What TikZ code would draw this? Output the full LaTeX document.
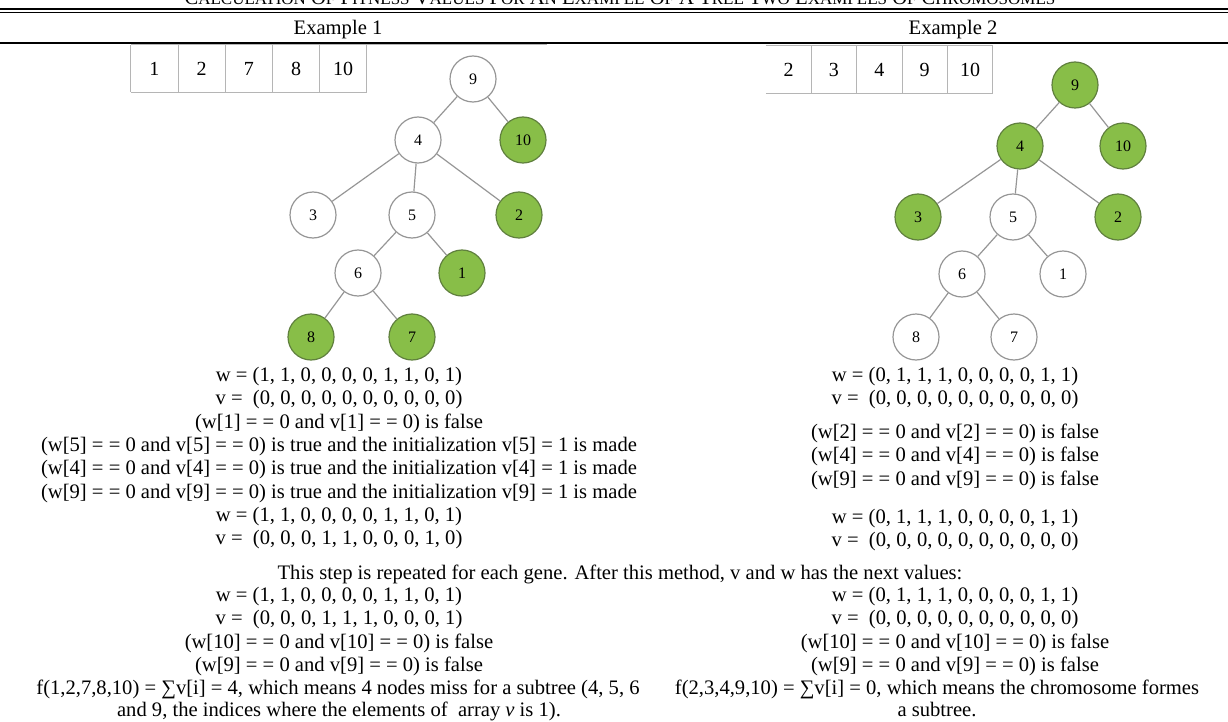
\documentclass[tikz,border=0pt]{standalone}
\usepackage{fontspec}
\setmainfont{Liberation Serif}
\usetikzlibrary{positioning}
\definecolor{leafgreen}{RGB}{136,190,72}
\definecolor{leafrim}{RGB}{96,128,62}
\definecolor{stemgray}{RGB}{150,150,150}
\newcommand{\sccap}[2]{#1{\fontsize{17}{18}\selectfont #2}}

\begin{document}
\begin{tikzpicture}[x=1pt, y=-1pt, every node/.style={font=\fontsize{20.6}{23}\selectfont, inner sep=0pt},
        txt/.style={anchor=base},
        plain/.style={circle, draw=stemgray, line width=1.2pt, fill=white, minimum size=46pt, font=\fontsize{16}{18}\selectfont},
        marked/.style={plain, draw=leafrim, fill=leafgreen},
        cell/.style={minimum width=46.8pt, minimum height=47pt, font=\fontsize{20}{22}\selectfont},
        gridline/.style={draw=stemgray!70, line width=0.8pt},
        branch/.style={draw=stemgray, line width=1.2pt}]
    \useasboundingbox (0,0) rectangle (1228,722);
    \node[txt] (title) at (620,5) {\sccap{C}{ALCULATION} \sccap{O}{F} \sccap{F}{ITNESS} \sccap{V}{ALUES} \sccap{F}{OR} \sccap{A}{N} \sccap{E}{XAMPLE} \sccap{O}{F} A \sccap{T}{REE} \sccap{T}{WO} \sccap{E}{XAMPLES} \sccap{O}{F} \sccap{C}{HROMOSOMES}};
    \draw[line width=2.5pt] (0,9) -- (1228,9);
    \draw[line width=1pt] (0,13) -- (1228,13);
    \node[txt] (ex1) at (338,35) {Example 1};
    \node[txt] (ex2) at (953,35) {Example 2};
    \draw[line width=2pt] (0,43) -- (1228,43);

    % chromosome arrays
    \node[cell] (a1) at (154.4,68.5) {1};
    \node[cell, right=0pt of a1] (a2) {2};
    \node[cell, right=0pt of a2] (a3) {7};
    \node[cell, right=0pt of a3] (a4) {8};
    \node[cell, right=0pt of a4] (a5) {10};
    \draw[gridline] (a1.north west) -- ++(416,0) (a1.south west) -- (a5.south east) (a1.north west) -- (a1.south west);
    \foreach \c in {1,...,5} \draw[gridline] (a\c.north east) -- (a\c.south east);
    \node[cell, minimum width=45pt] (b1) at (788.5,69.5) {2};
    \node[cell, minimum width=45pt, right=0pt of b1] (b2) {3};
    \node[cell, minimum width=45pt, right=0pt of b2] (b3) {4};
    \node[cell, minimum width=45pt, right=0pt of b3] (b4) {9};
    \node[cell, minimum width=45pt, right=0pt of b4] (b5) {10};
    \draw[gridline] (b1.north west) -- (b5.north east) (b1.south west) -- (b5.south east);
    \foreach \c in {1,...,5} \draw[gridline] (b\c.north east) -- (b\c.south east);

    % tree, example 1
    \node[plain] (l9) at (473,79) {9};
    \node[plain] (l4) at (418,140) {4};
    \node[marked] (l10) at (523,140) {10};
    \node[plain] (l3) at (313,215) {3};
    \node[plain] (l5) at (412,215) {5};
    \node[marked] (l2) at (519,215) {2};
    \node[plain] (l6) at (358,273) {6};
    \node[marked] (l1) at (462,273) {1};
    \node[marked] (l8) at (311,337) {8};
    \node[marked] (l7) at (412,337) {7};
    \draw[branch] (l9) -- (l4) (l9) -- (l10) (l4) -- (l3) (l4) -- (l5) (l4) -- (l2) (l5) -- (l6) (l5) -- (l1) (l6) -- (l8) (l6) -- (l7);

    % tree, example 2
    \node[marked] (r9) at (1075,85) {9};
    \node[marked] (r4) at (1020,146) {4};
    \node[marked] (r10) at (1123,146) {10};
    \node[marked] (r3) at (918,217) {3};
    \node[plain] (r5) at (1013,217) {5};
    \node[marked] (r2) at (1118,217) {2};
    \node[plain] (r6) at (962,274) {6};
    \node[plain] (r1) at (1063,274) {1};
    \node[plain] (r8) at (916,337) {8};
    \node[plain] (r7) at (1014,337) {7};
    \draw[branch] (r9) -- (r4) (r9) -- (r10) (r4) -- (r3) (r4) -- (r5) (r4) -- (r2) (r5) -- (r6) (r5) -- (r1) (r6) -- (r8) (r6) -- (r7);

    % steps, example 1
    \node[txt] (lw1) at (339,381) {w = (1, 1, 0, 0, 0, 0, 1, 1, 0, 1)};
    \node[txt] (lv1) at (339,404) {v =~ (0, 0, 0, 0, 0, 0, 0, 0, 0, 0)};
    \node[txt] (lc1) at (339,428) {(w[1] = = 0 and v[1] = = 0) is false};
    \node[txt] (lc5) at (339,451) {(w[5] = = 0 and v[5] = = 0) is true and the initialization v[5] = 1 is made};
    \node[txt] (lc4) at (339,474) {(w[4] = = 0 and v[4] = = 0) is true and the initialization v[4] = 1 is made};
    \node[txt] (lc9) at (339,498) {(w[9] = = 0 and v[9] = = 0) is true and the initialization v[9] = 1 is made};
    \node[txt] (lw2) at (339,521) {w = (1, 1, 0, 0, 0, 0, 1, 1, 0, 1)};
    \node[txt] (lv2) at (339,544) {v =~ (0, 0, 0, 1, 1, 0, 0, 0, 1, 0)};

    % steps, example 2
    \node[txt] (rw1) at (955,381) {w = (0, 1, 1, 1, 0, 0, 0, 0, 1, 1)};
    \node[txt] (rv1) at (955,404) {v =~ (0, 0, 0, 0, 0, 0, 0, 0, 0, 0)};
    \node[txt] (rc2) at (955,438) {(w[2] = = 0 and v[2] = = 0) is false};
    \node[txt] (rc4) at (955,461.5) {(w[4] = = 0 and v[4] = = 0) is false};
    \node[txt] (rc9) at (955,485) {(w[9] = = 0 and v[9] = = 0) is false};
    \node[txt] (rw2) at (955,523) {w = (0, 1, 1, 1, 0, 0, 0, 0, 1, 1)};
    \node[txt] (rv2) at (955,546) {v =~ (0, 0, 0, 0, 0, 0, 0, 0, 0, 0)};

    \node[txt] (repeat) at (620,579) {This step is repeated for each gene. After this method, v and w has the next values:};

    % final values
    \node[txt] (lw3) at (339,601) {w = (1, 1, 0, 0, 0, 0, 1, 1, 0, 1)};
    \node[txt] (lv3) at (339,624) {v =~ (0, 0, 0, 1, 1, 1, 0, 0, 0, 1)};
    \node[txt] (lc10) at (339,648) {(w[10] = = 0 and v[10] = = 0) is false};
    \node[txt] (lc9b) at (339,671) {(w[9] = = 0 and v[9] = = 0) is false};
    \node[txt] (lf) at (338,694) {f(1,2,7,8,10) = ∑v[i] = 4, which means 4 nodes miss for a subtree (4, 5, 6};
    \node[txt] (lf2) at (339,716) {and 9, the indices where the elements of~ array \textit{v} is 1).};
    \node[txt] (rw3) at (955,601) {w = (0, 1, 1, 1, 0, 0, 0, 0, 1, 1)};
    \node[txt] (rv3) at (955,624) {v =~ (0, 0, 0, 0, 0, 0, 0, 0, 0, 0)};
    \node[txt] (rc10) at (955,648) {(w[10] = = 0 and v[10] = = 0) is false};
    \node[txt] (rc9b) at (955,671) {(w[9] = = 0 and v[9] = = 0) is false};
    \node[txt] (rf) at (937,694) {f(2,3,4,9,10) = ∑v[i] = 0, which means the chromosome formes};
    \node[txt] (rf2) at (937,716) {a subtree.};
\end{tikzpicture}
\end{document}
